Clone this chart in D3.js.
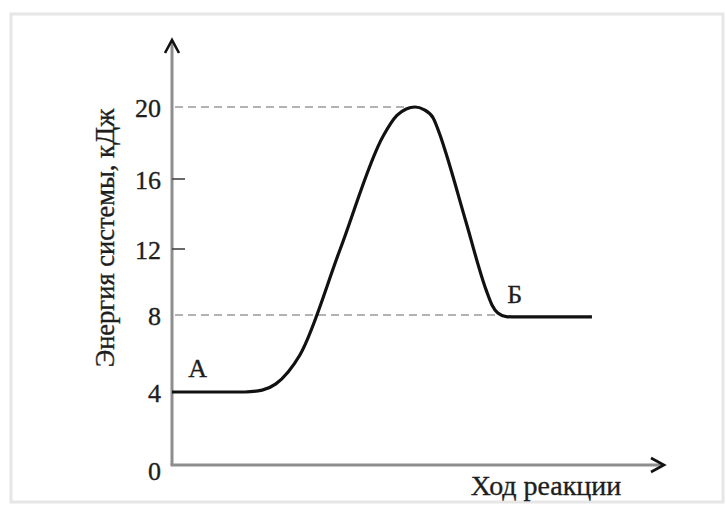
<!DOCTYPE html>
<html>
<head>
<meta charset="utf-8">
<script src="https://cdn.jsdelivr.net/npm/d3@7"></script>
<style>
  body { margin: 0; background: #fff; }
  svg { display: block; }
</style>
</head>
<body>
<svg></svg>
<script>
// reaction progress (arbitrary units) and system energy, kJ
const progress = [0, 14.9, 18.4, 21.2, 23.7, 26.1, 34.3, 43.1, 45.9, 47.8, 49.6, 51.4, 53.3, 54.7, 55.9, 60.0, 64.1, 65.3, 66.5, 68.2, 70.0, 85.7];
const energy = [4, 4, 4.1, 4.42, 5.04, 5.92, 11.97, 18.39, 19.53, 19.89, 20, 19.86, 19.39, 18.44, 17.44, 13.54, 9.52, 8.61, 8.12, 7.92, 7.9, 7.9];
const yTicks = [0, 4, 8, 12, 16, 20];
const tickMarks = [12, 16];
const dashedLevels = [20, 8];
const pointLabels = [
  { text: "А", x: 3.3, y: 4.78 },
  { text: "Б", x: 68.4, y: 8.73 },
];
const yTitle = "Энергия системы, кДж";
const xTitle = "Ход реакции";

const WIDTH = 726;
const HEIGHT = 509;
const FONT = "'Liberation Serif', 'Times New Roman', serif";
const TEXT_COLOR = "#1e1e1e";

/**
 * Builds the x and y scales.
 * The y scale is piecewise so the levels sit where the picture has them.
 */
function createScales() {
  var x = d3.scaleLinear().domain([0, 100]).range([172, 662]);
  var y = d3
    .scaleLinear()
    .domain(yTicks)
    .range([465, 392, 315, 249, 179, 107]);
  return { x: x, y: y };
}

/**
 * Styles a text in the serif face used all over the chart.
 */
function addText(sel, size) {
  return sel
    .attr("font-family", FONT)
    .attr("font-size", size)
    .attr("fill", TEXT_COLOR)
    .attr("stroke", TEXT_COLOR)
    .attr("stroke-width", 0.35);
}

/**
 * Draws both axes with their chevron arrow heads.
 */
function drawAxes(svg, x, y) {
  const AXIS_COLOR = "#8e8e8e";
  const x0 = x(0);
  const y0 = y(0);

  svg
    .append("line")
    .attr("x1", x0)
    .attr("y1", y0)
    .attr("x2", x0)
    .attr("y2", 42)
    .attr("stroke", AXIS_COLOR)
    .attr("stroke-width", 3);

  svg
    .append("line")
    .attr("x1", x0 - 1.5)
    .attr("y1", y0)
    .attr("x2", 662)
    .attr("y2", y0)
    .attr("stroke", AXIS_COLOR)
    .attr("stroke-width", 3);

  // arrow heads
  svg
    .append("path")
    .attr("d", `M${x0 - 7},${53} L${x0},${40} L${x0 + 7},${53}`)
    .attr("fill", "none")
    .attr("stroke", "#111")
    .attr("stroke-width", 2.6);

  svg
    .append("path")
    .attr("d", `M${651},${y0 - 7} L${664},${y0} L${651},${y0 + 7}`)
    .attr("fill", "none")
    .attr("stroke", "#111")
    .attr("stroke-width", 2.6);

  // tick labels
  addText(
    svg
      .append("g")
      .selectAll("text")
      .data(yTicks)
      .enter()
      .append("text")
      .attr("x", 161)
      .attr("y", (d) => (d === 0 ? y(d) + 15 : y(d) + 10))
      .attr("text-anchor", "end")
      .text((d) => d),
    26
  );

  // small tick marks
  svg
    .append("g")
    .selectAll("line")
    .data(tickMarks)
    .enter()
    .append("line")
    .attr("x1", x0)
    .attr("x2", x0 + 13)
    .attr("y1", (d) => y(d))
    .attr("y2", (d) => y(d))
    .attr("stroke", "#444")
    .attr("stroke-width", 1.6);

  addText(
    svg
      .append("text")
      .attr("transform", `translate(114,${238}) rotate(-90)`)
      .attr("text-anchor", "middle")
      .text(yTitle),
    26.5
  );

  addText(
    svg
      .append("text")
      .attr("x", 546)
      .attr("y", 495)
      .attr("text-anchor", "middle")
      .text(xTitle),
    28
  );
}

/**
 * Dashed guide lines running from the axis to the curve.
 */
function drawGuides(svg, x, y) {
  const ends = { 20: 49.6, 8: 66.3 };
  svg
    .append("g")
    .selectAll("line")
    .data(dashedLevels)
    .enter()
    .append("line")
    .attr("x1", x(0) + 3)
    .attr("x2", (d) => x(ends[d]))
    .attr("y1", (d) => y(d))
    .attr("y2", (d) => y(d))
    .attr("stroke", "#9a9a9a")
    .attr("stroke-width", 1.4)
    .attr("stroke-dasharray", "8,5");
}

/**
 * Draws the energy curve and the А / Б labels.
 */
function drawCurve(svg, x, y) {
  const data = progress.map((p, i) => ({ p: p, e: energy[i] }));
  const line = d3
    .line()
    .x((d) => x(d.p))
    .y((d) => y(d.e))
    .curve(d3.curveMonotoneX);

  svg
    .append("path")
    .datum(data)
    .attr("d", line)
    .attr("fill", "none")
    .attr("stroke", "#111")
    .attr("stroke-width", 3.2)
    .attr("stroke-linejoin", "round");

  addText(
    svg
      .append("g")
      .selectAll("text")
      .data(pointLabels)
      .enter()
      .append("text")
      .attr("x", (d) => x(d.x))
      .attr("y", (d) => y(d.y))
      .text((d) => d.text),
    26
  );
}

function createChart() {
  var svg = d3.select("svg").attr("width", WIDTH).attr("height", HEIGHT);

  // light frame round the picture
  svg
    .append("rect")
    .attr("x", 11)
    .attr("y", 14)
    .attr("width", 712)
    .attr("height", 488)
    .attr("fill", "none")
    .attr("stroke", "#e6e6e6")
    .attr("stroke-width", 3);

  var { x, y } = createScales();
  drawGuides(svg, x, y);
  drawAxes(svg, x, y);
  drawCurve(svg, x, y);
}

createChart();
</script>
</body>
</html>
